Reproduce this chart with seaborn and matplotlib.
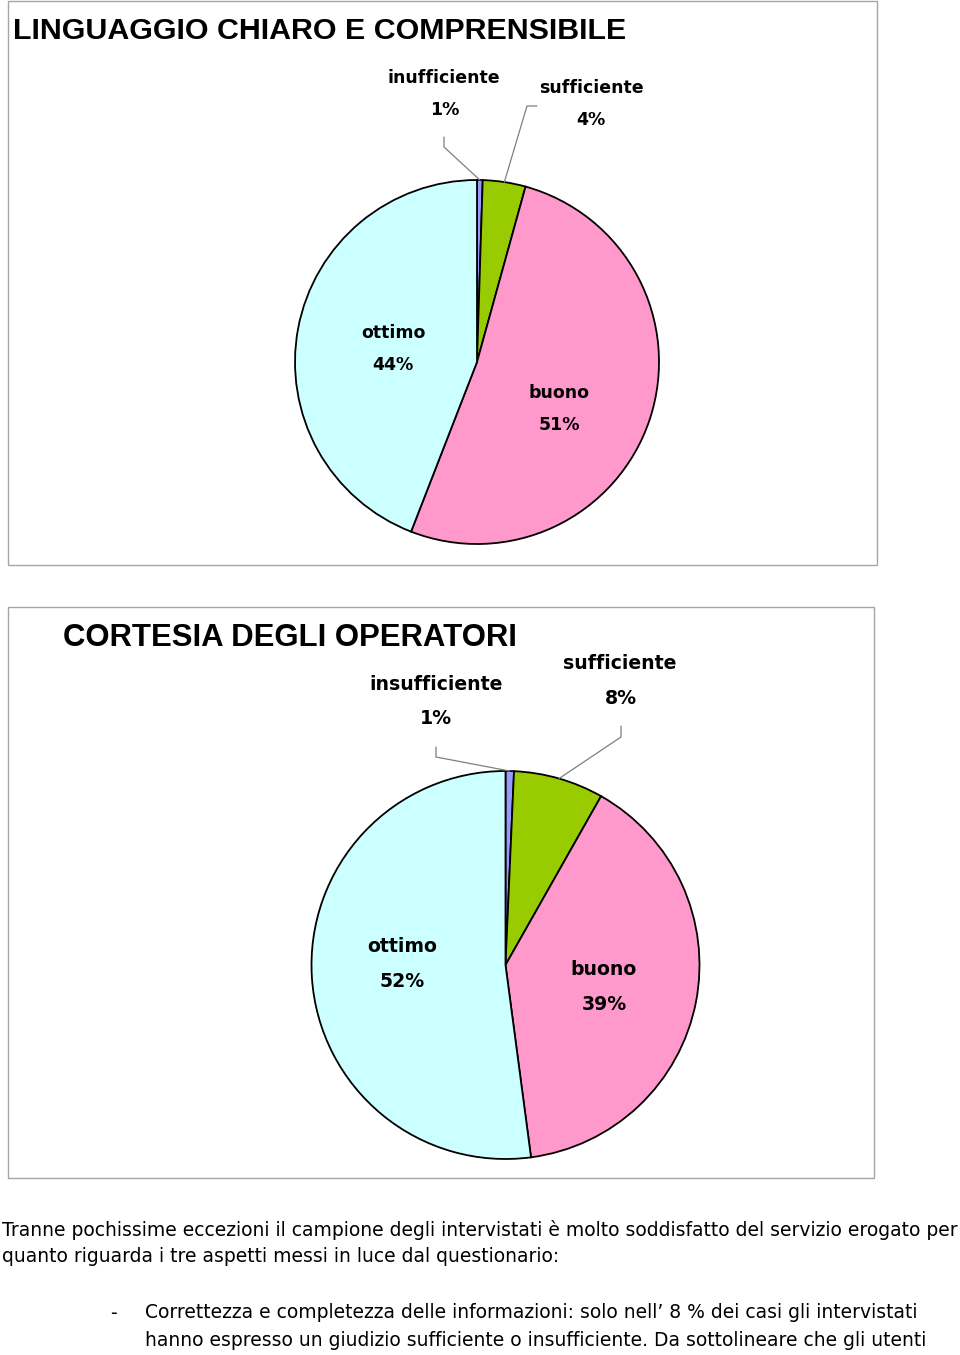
import numpy as np
import matplotlib
matplotlib.use("Agg")
import matplotlib.pyplot as plt
import seaborn as sns
from matplotlib.patches import Rectangle

# ---------------- data ----------------
categories = ["insufficiente", "sufficiente", "buono", "ottimo"]
slice_colors = ["#9999FF", "#99CC00", "#FF99CC", "#CCFFFF"]

lang_title = "LINGUAGGIO CHIARO E COMPRENSIBILE"
lang_names = ["inufficiente", "sufficiente", "buono", "ottimo"]
lang_values = [0.5, 3.8, 51.6, 44.1]
lang_pct = ["1%", "4%", "51%", "44%"]

cort_title = "CORTESIA DEGLI OPERATORI"
cort_names = ["insufficiente", "sufficiente", "buono", "ottimo"]
cort_values = [0.7, 7.5, 39.7, 52.1]
cort_pct = ["1%", "8%", "39%", "52%"]

para1 = ["Tranne pochissime eccezioni il campione degli intervistati è molto soddisfatto del servizio erogato per",
         "quanto riguarda i tre aspetti messi in luce dal questionario:"]
para2 = ["Correttezza e completezza delle informazioni: solo nell\u2019 8 % dei casi gli intervistati",
         "hanno espresso un giudizio sufficiente o insufficiente. Da sottolineare che gli utenti"]

# ---------------- layout ----------------
W, H = 960, 1355
sns.set_theme(style="white")
plt.rcParams['font.family'] = ['DejaVu Sans']
plt.rcParams['text.color'] = 'black'
fig = plt.figure(figsize=(W / 100, H / 100), dpi=100)
fig.patch.set_facecolor("white")


def fx(px):
    return px / W


def fy(py):
    return 1 - py / H


def box(x0, y0, x1, y1):
    fig.patches.append(Rectangle((fx(x0), fy(y1)), fx(x1) - fx(x0), fy(y0) - fy(y1),
                                 transform=fig.transFigure, fill=False,
                                 edgecolor="#A6A6A6", linewidth=1.0))


def draw_pie(cx, cy, r, values, names, pcts, label_px, leaders, fsize):
    ax = fig.add_axes([(cx - r) / W, (H - cy - r) / H, 2 * r / W, 2 * r / H])
    wedges, _ = ax.pie(values, colors=slice_colors, startangle=90, counterclock=False,
                       wedgeprops=dict(edgecolor="black", linewidth=1.3))
    ax.set_xlim(-1, 1)
    ax.set_ylim(-1, 1)
    ax.axis("off")

    def d(px, py):
        return ((px - cx) / r, (cy - py) / r)

    for i, (name, pct) in enumerate(zip(names, pcts)):
        (nx, ny), (qx, qy) = label_px[i]
        ax.text(*d(nx, ny), name, ha="center", va="center", fontsize=fsize,
                fontweight="bold", color="black", clip_on=False)
        ax.text(*d(qx, qy), pct, ha="center", va="center", fontsize=fsize,
                fontweight="bold", color="black", clip_on=False)
    for i, pts in leaders.items():
        w = wedges[i]
        mid = np.deg2rad((w.theta1 + w.theta2) / 2)
        ex, ey = np.cos(mid), np.sin(mid)
        xs = [d(*p)[0] for p in pts] + [ex]
        ys = [d(*p)[1] for p in pts] + [ey]
        ax.plot(xs, ys, color="#7F7F7F", linewidth=0.9, clip_on=False)
    return ax


# chart 1
box(8, 1, 877, 565)
fig.text(fx(13), fy(31), lang_title, fontsize=21.9, family="Liberation Sans",
         fontweight="bold", color="black", ha="left", va="center")
draw_pie(477, 362, 182, lang_values, lang_names, lang_pct,
         [((444, 78), (445, 110)), ((591, 88), (591, 120)),
          ((559, 393), (559, 425)), ((393, 333), (393, 365))],
         {0: [(444, 137), (444, 147)], 1: [(537, 106), (527, 106)]}, 12.5)

# chart 2
box(8, 607, 874, 1178)
fig.text(fx(63), fy(638), cort_title, fontsize=22.4, family="Liberation Sans",
         fontweight="bold", color="black", ha="left", va="center")
draw_pie(505.5, 965, 194, cort_values, cort_names, cort_pct,
         [((436, 685), (436, 719)), ((620, 664), (621, 699)),
          ((603, 970), (604, 1005)), ((402, 947), (402, 982))],
         {0: [(436, 747), (436, 757)], 1: [(621, 726), (621, 737)]}, 13.6)

# body text
bfs = 13.5
fig.text(fx(2), fy(1230), para1[0], fontsize=bfs, color="black", ha="left", va="center")
fig.text(fx(2), fy(1257), para1[1], fontsize=bfs, color="black", ha="left", va="center")
fig.text(fx(110), fy(1313), "-", fontsize=bfs, color="black", ha="left", va="center")
fig.text(fx(145), fy(1313), para2[0], fontsize=bfs, color="black", ha="left", va="center")
fig.text(fx(145), fy(1341), para2[1], fontsize=bfs, color="black", ha="left", va="center")

fig.savefig("out.png", dpi=100, facecolor="white")
